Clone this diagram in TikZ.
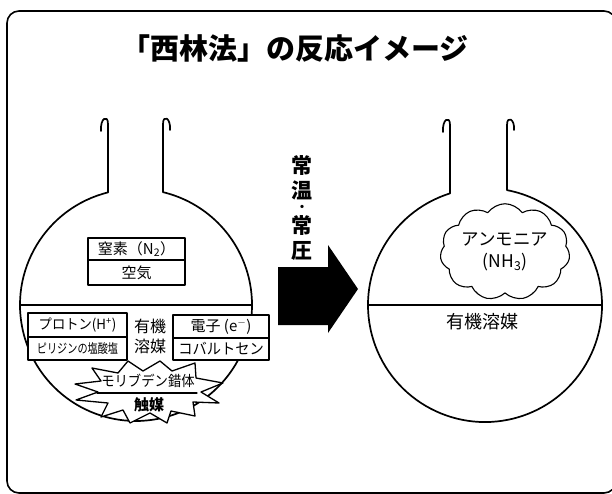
\documentclass[tikz,border=0pt]{standalone}
\usepackage{graphicx}
\usepackage{fontspec}
\setmainfont{Noto Sans CJK JP}
\usetikzlibrary{shapes.symbols}

\begin{document}
\begin{tikzpicture}[x=1pt,y=-1pt,line join=round,line cap=round,
  frame/.style={line width=1.6pt,rounded corners=12pt},
  flask/.style={line width=1.7pt},
  rowbox/.style={draw,line width=1.3pt,fill=white,inner sep=0pt,anchor=center},
  jtext/.style={inner sep=0pt,font=\fontsize{#1}{#1}\selectfont},
  jbold/.style={inner sep=0pt,font=\fontsize{#1}{#1}\selectfont\bfseries}]

\useasboundingbox (0,0) rectangle (612,494);

% outer frame
\draw[frame] (7,11) rectangle (616,493);

% title
\node[jbold=29] (title) at (295,48) {「西林法」の反応イメージ};

% ---------- left flask ----------
\draw[flask] (101,131) .. controls (100,118) and (108,114) .. (108,124)
  -- (108,192.4) arc[start angle=103.97,end angle=436.54,radius=116pt]
  -- (163,124) .. controls (163,114) and (171,118) .. (170,130);
\draw[flask] (20,305) -- (252,305);

% gas above the solvent
\node[rowbox,minimum width=97pt,minimum height=22pt] (nitrogen) at (136.5,249)
  {\fontsize{15}{15}\selectfont 窒素（N\textsubscript{2}）};
\node[rowbox,minimum width=97pt,minimum height=25pt] (air) at (136.5,272.5)
  {\fontsize{15}{15}\selectfont 空気};

% proton source
\node[rowbox,minimum width=99pt,minimum height=24pt] (proton) at (77.5,325)
  {\fontsize{14}{14}\selectfont\scalebox{0.95}[1]{プロトン(H\textsuperscript{+})}};
\node[rowbox,minimum width=99pt,minimum height=23pt] (pyridine) at (77.5,348.5)
  {\fontsize{13}{13}\selectfont\scalebox{0.78}[1]{ピリジンの塩酸塩}};

% solvent label
\node[jtext=16,align=center] (solvent) at (150,336)
  {有機\\[4pt]溶媒};

% electron source
\node[rowbox,minimum width=96pt,minimum height=23pt] (electron) at (221,326.5)
  {\fontsize{15}{15}\selectfont 電子 (e\textsuperscript{$-$})};
\node[rowbox,minimum width=96pt,minimum height=22pt] (cobaltocene) at (221,349)
  {\fontsize{15}{15}\selectfont\scalebox{0.95}[1]{コバルトセン}};

% catalyst starburst
\draw[line width=1.3pt,fill=white]
  (75,384) -- (101,381) -- (92,368) -- (118,373) -- (128,361) -- (143,371)
  -- (160,361) -- (172,371) -- (195,363) -- (196,378) -- (223,383)
  -- (201,392) -- (219,403) -- (193,402) -- (195,416) -- (171,411)
  -- (167,423) -- (150,413) -- (130,423) -- (123,410) -- (101,417)
  -- (108,403) -- (76,400) -- (98,392) -- cycle;
\node[jtext=14.5] (molybdenum) at (148,381)
  {\scalebox{0.92}[1]{モリブデン錯体}};
\draw[line width=1.2pt] (97,393) -- (197,393);
\node[jbold=15] (catalyst) at (149,405) {触媒};

% ---------- reaction arrow ----------
\fill (278,267) -- (328,267) -- (328,245) -- (358,289) -- (328,333)
  -- (328,325) -- (278,325) -- cycle;
\node[jbold=21] (c1) at (302,166) {常};
\node[jbold=21] (c2) at (302,190) {温};
\node[jbold=12] (c3) at (302,208) {・};
\node[jbold=21] (c4) at (302,226) {常};
\node[jbold=21] (c5) at (302,251) {圧};

% ---------- right flask ----------
\draw[flask] (443,132) .. controls (442,119) and (450,115) .. (450,125)
  -- (450,193.4) arc[start angle=107.41,end angle=439.16,radius=117pt]
  -- (507,125) .. controls (507,115) and (515,119) .. (514,130);
\draw[flask] (368,305) -- (602,305);

\node[cloud,draw,line width=1.1pt,cloud puffs=11,cloud puff arc=110,aspect=1.5,
  minimum width=120pt,minimum height=84pt,inner sep=0pt,align=center,
  font=\fontsize{17.5}{17.5}\selectfont] (ammonia) at (505,252)
  {アンモニア\\[4pt](NH\textsubscript{3})};

\node[jtext=18] (solventR) at (482,322) {有機溶媒};

\end{tikzpicture}
\end{document}
